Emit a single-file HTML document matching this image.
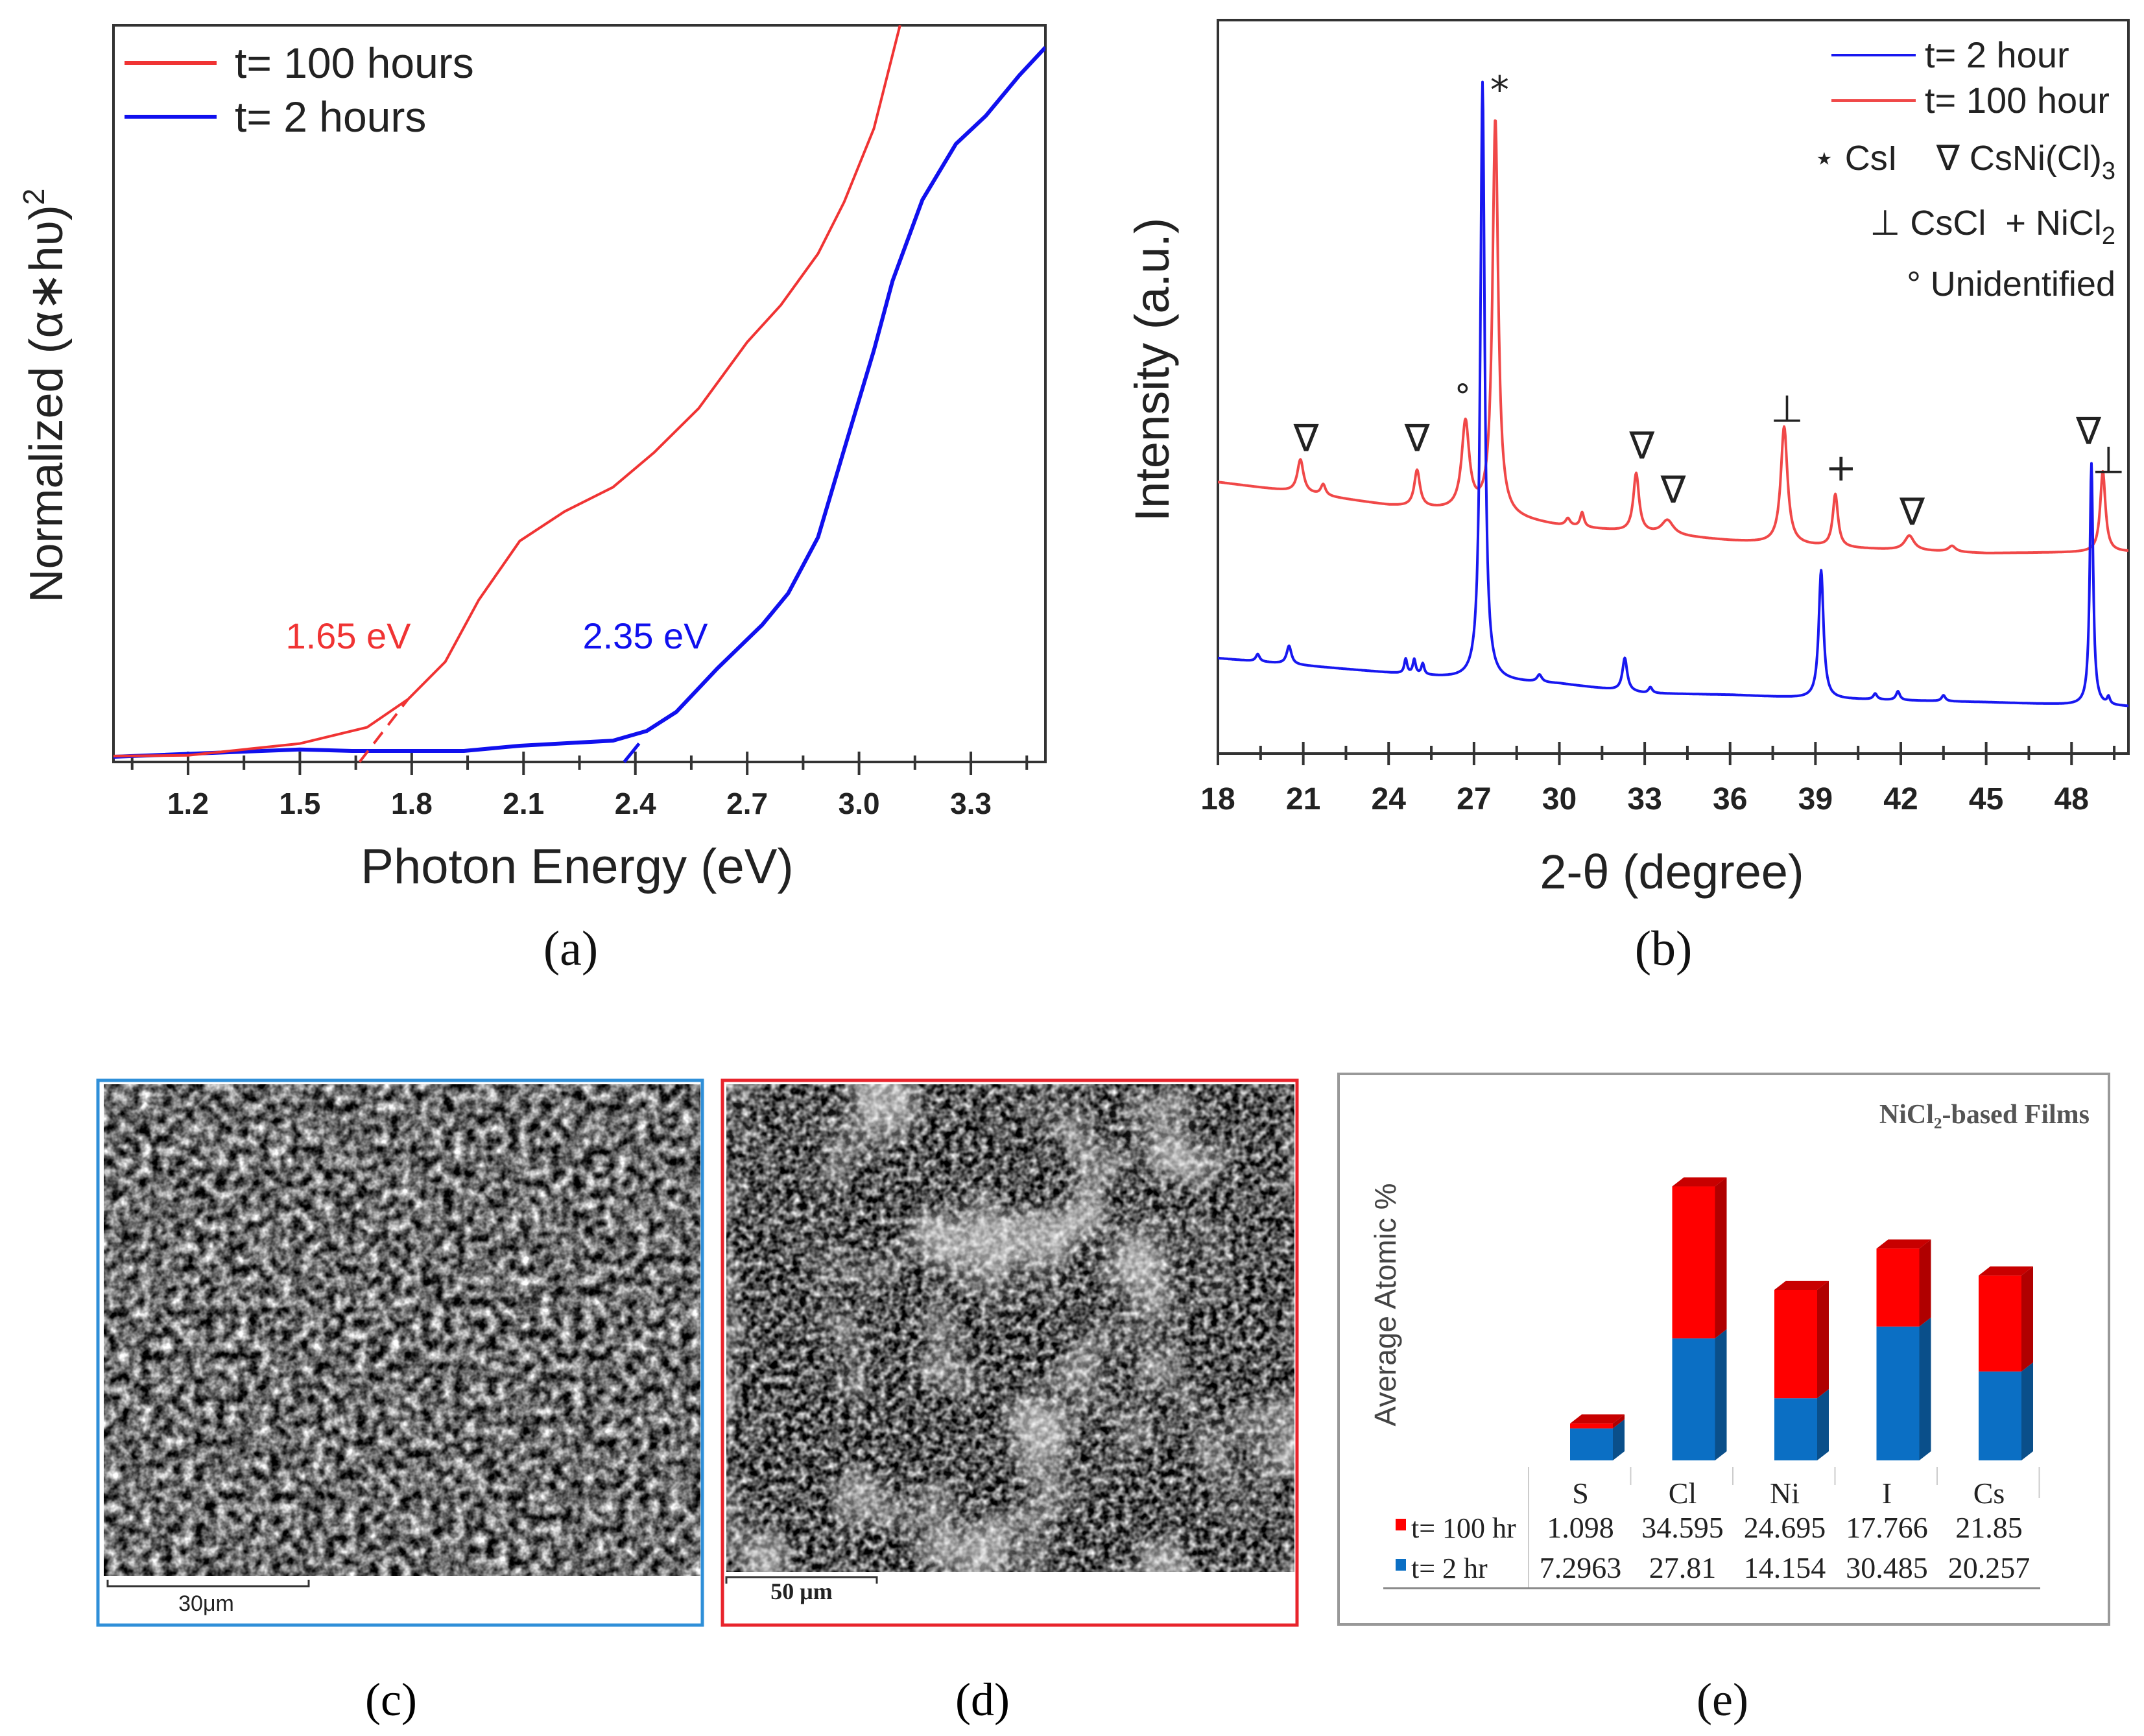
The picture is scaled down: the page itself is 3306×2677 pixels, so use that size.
<!DOCTYPE html>
<html><head><meta charset="utf-8"><style>
html,body{margin:0;padding:0;background:#fff;}
svg{display:block;}
</style></head><body>
<svg id="fig" width="3306" height="2677" viewBox="0 0 3306 2677" xmlns="http://www.w3.org/2000/svg">
<defs>
<filter id="semC" x="0" y="0" width="1" height="1" color-interpolation-filters="sRGB">
<feTurbulence type="fractalNoise" baseFrequency="0.06" numOctaves="3" seed="4" result="n"/>
<feColorMatrix in="n" type="matrix" values="1.7 0 0 0 -0.42  1.7 0 0 0 -0.42  1.7 0 0 0 -0.42  0 0 0 0 1"/>
</filter>
<filter id="semD1" x="0" y="0" width="1" height="1" color-interpolation-filters="sRGB">
<feTurbulence type="fractalNoise" baseFrequency="0.09" numOctaves="2" seed="2" result="n"/>
<feColorMatrix in="n" type="matrix" values="1.6 0 0 0 -0.45  1.6 0 0 0 -0.45  1.6 0 0 0 -0.45  0 0 0 0 1"/>
</filter>
<filter id="semD2" x="0" y="0" width="1" height="1" color-interpolation-filters="sRGB">
<feTurbulence type="fractalNoise" baseFrequency="0.007" numOctaves="2" seed="9" result="n"/>
<feColorMatrix in="n" type="matrix" values="0 0 0 0 1  0 0 0 0 1  0 0 0 0 1  4 0 0 0 -1.9"/>
</filter>
</defs>
<g id="panelA"></g>
<g id="panelB"></g>
<g id="panelC">
<rect x="151" y="1666" width="932" height="840" fill="#fff" stroke="#2f8fd8" stroke-width="5"/>
<rect x="160" y="1672" width="920" height="758" fill="#777" filter="url(#semC)"/>
<path d="M166,2436 V2446 H476 V2436" fill="none" stroke="#333" stroke-width="3"/>
<text x="318" y="2484" font-family="Liberation Sans, sans-serif" font-size="34" text-anchor="middle" fill="#222">30μm</text>
<text x="603" y="2645" font-family="Liberation Serif, serif" font-size="72" text-anchor="middle">(c)</text>
</g>
<g id="panelD">
<rect x="1114" y="1666" width="886" height="840" fill="#fff" stroke="#e8242c" stroke-width="5"/>
<rect x="1120" y="1672" width="876" height="752" fill="#777" filter="url(#semD1)"/>
<rect x="1120" y="1672" width="876" height="752" fill="#fff" filter="url(#semD2)" opacity="0.55"/>
<path d="M1120,2442 V2432 H1352 V2442" fill="none" stroke="#333" stroke-width="3"/>
<text x="1236" y="2466" font-family="Liberation Serif, serif" font-size="36" font-weight="bold" text-anchor="middle" fill="#222">50 μm</text>
<text x="1515" y="2645" font-family="Liberation Serif, serif" font-size="72" text-anchor="middle">(d)</text>
</g>
<g id="panelE"></g>
</svg>
<script>
const NS='http://www.w3.org/2000/svg';
function mk(parent,tag,attrs,text){const e=document.createElementNS(NS,tag);for(const k in attrs)e.setAttribute(k,attrs[k]);if(text!==undefined)e.textContent=text;parent.appendChild(e);return e;}

/* ---------- Panel (a) data ---------- */
const aRedX=[1.0,1.2,1.5,1.68,1.79,1.89,1.98,2.09,2.21,2.34,2.45,2.57,2.70,2.79,2.89,2.96,3.04,3.11];
const aRedY=[0.008,0.009,0.025,0.047,0.085,0.136,0.22,0.30,0.34,0.373,0.42,0.48,0.57,0.62,0.69,0.76,0.86,1.0];
const aBlueX=[1.0,1.5,1.64,1.94,2.09,2.34,2.43,2.51,2.62,2.74,2.81,2.89,2.96,3.04,3.09,3.17,3.26,3.34,3.43,3.5];
const aBlueY=[0.007,0.017,0.015,0.015,0.022,0.029,0.042,0.068,0.127,0.186,0.229,0.305,0.424,0.559,0.653,0.763,0.839,0.877,0.932,0.97];
const aTicks=[1.2,1.5,1.8,2.1,2.4,2.7,3.0,3.3];
const aTickLabels=['1.2','1.5','1.8','2.1','2.4','2.7','3.0','3.3'];
const aMinor=[1.05,1.35,1.65,1.95,2.25,2.55,2.85,3.15,3.45];
const aGapRed=[1.66,1.79];
const aGapBlue=[2.37,2.41];

/* ---------- Panel (b) data ---------- */
const bRedBaseX=[18,21,24,27,30,33,36,40,45,50];
const bRedBaseY=[0.37,0.355,0.338,0.328,0.31,0.30,0.29,0.28,0.273,0.275];
const bRedPeakC=[20.9,21.7,25.0,26.7,27.75,30.3,30.8,32.7,33.8,37.9,39.7,42.3,43.8,49.1];
const bRedPeakH=[0.045,0.015,0.05,0.12,0.54,0.01,0.02,0.08,0.02,0.16,0.072,0.02,0.008,0.11];
const bRedPeakW=[0.13,0.1,0.12,0.16,0.12,0.1,0.08,0.12,0.25,0.14,0.11,0.2,0.15,0.11];
const bBlueBaseX=[18,21,24,27,30,33,36,39,45,50];
const bBlueBaseY=[0.13,0.12,0.11,0.10,0.095,0.082,0.08,0.075,0.07,0.064];
const bBluePeakC=[19.4,20.5,24.6,24.9,25.2,27.3,29.3,32.3,33.2,39.2,41.1,41.9,43.5,48.7,49.3];
const bBluePeakH=[0.01,0.025,0.02,0.02,0.015,0.816,0.01,0.045,0.008,0.175,0.008,0.012,0.008,0.33,0.01];
const bBluePeakW=[0.08,0.1,0.06,0.06,0.06,0.09,0.1,0.1,0.08,0.1,0.08,0.08,0.08,0.07,0.06];
const bTicks=[18,21,24,27,30,33,36,39,42,45,48];
const bTickLabels=['18','21','24','27','30','33','36','39','42','45','48'];
const bMinor=[19.5,22.5,25.5,28.5,31.5,34.5,37.5,40.5,43.5,46.5,49.5];
const bMarkSym=['∇','∇','∇','∇','∇','∇','⊥','⊥','+','°','*'];
const bMarkX=[21.1,25.0,32.9,34.0,42.4,48.6,38.0,49.3,39.9,26.6,27.9];
const bMarkY=[0.43,0.43,0.42,0.36,0.33,0.44,0.47,0.40,0.39,0.49,0.905];

/* ---------- Panel (e) data ---------- */
const eCats=['S','Cl','Ni','I','Cs'];
const e100=[1.098,34.595,24.695,17.766,21.85];
const e2=[7.2963,27.81,14.154,30.485,20.257];
const e100Labels=['1.098','34.595','24.695','17.766','21.85'];
const e2Labels=['7.2963','27.81','14.154','30.485','20.257'];

/* ===== Panel (a) ===== */
(function(){
const g=document.getElementById('panelA');
const L=175,R=1612,T=39,B=1175;
const xa=v=>L+(v-1.0)/2.5*(R-L);
const ya=f=>B-f*(B-T);
const clip=mk(g,'clipPath',{id:'clipA'});mk(clip,'rect',{x:L,y:T,width:R-L,height:B-T});
const box=mk(g,'rect',{x:L,y:T,width:R-L,height:B-T,fill:'none',stroke:'#333',"stroke-width":4});

aTicks.forEach((t,i)=>{
 const tk=mk(g,'line',{x1:xa(t),x2:xa(t),y1:B-16,y2:B+20,stroke:'#333',"stroke-width":4});
 
 const lb=mk(g,'text',{x:xa(t),y:B+80,"font-family":'Liberation Sans, sans-serif',"font-size":46,"font-weight":'bold',"text-anchor":'middle',fill:'#222'},aTickLabels[i]);
 
});
aMinor.forEach(t=>{const tk=mk(g,'line',{x1:xa(t),x2:xa(t),y1:B-10,y2:B+12,stroke:'#333',"stroke-width":4});
 });
function poly(xs,ys,col,w,name){
 let d='';xs.forEach((x,i)=>{d+=(i?'L':'M')+xa(x).toFixed(1)+','+ya(ys[i]).toFixed(1);});
 const p=mk(g,'path',{d:d,fill:'none',stroke:col,"stroke-width":w,"stroke-linejoin":'round',"clip-path":'url(#clipA)'});
 
}
poly(aBlueX,aBlueY,'#1010ee',6,'series-2-hours');
poly(aRedX,aRedY,'#f03333',4,'series-100-hours');
const interp=(xs,ys,x)=>{for(let i=1;i<xs.length;i++){if(x<=xs[i]){const t=(x-xs[i-1])/(xs[i]-xs[i-1]);return ys[i-1]+t*(ys[i]-ys[i-1]);}}return ys[ys.length-1];};
const tr=mk(g,'line',{x1:xa(aGapRed[0]),y1:ya(0),x2:xa(aGapRed[1]),y2:ya(interp(aRedX,aRedY,aGapRed[1])),stroke:'#f03333',"stroke-width":4,"stroke-dasharray":'22,14'});

const tb=mk(g,'line',{x1:xa(aGapBlue[0]),y1:ya(0),x2:xa(aGapBlue[1]),y2:ya(0.025),stroke:'#1010ee',"stroke-width":5});

const t1=mk(g,'text',{x:537,y:1000,"font-family":'Liberation Sans, sans-serif',"font-size":56,"text-anchor":'middle',fill:'#f03333'},'1.65 eV');

const t2=mk(g,'text',{x:995,y:1000,"font-family":'Liberation Sans, sans-serif',"font-size":56,"text-anchor":'middle',fill:'#1010ee'},'2.35 eV');

const l1=mk(g,'line',{x1:192,x2:334,y1:97,y2:97,stroke:'#f03333',"stroke-width":6});

const lt1=mk(g,'text',{x:362,y:120,"font-family":'Liberation Sans, sans-serif',"font-size":66,fill:'#222'},'t= 100 hours');

const l2=mk(g,'line',{x1:192,x2:334,y1:180,y2:180,stroke:'#1010ee',"stroke-width":6});

const lt2=mk(g,'text',{x:362,y:203,"font-family":'Liberation Sans, sans-serif',"font-size":66,fill:'#222'},'t= 2 hours');

const xt=mk(g,'text',{x:890,y:1362,"font-family":'Liberation Sans, sans-serif',"font-size":76,"text-anchor":'middle',fill:'#222'},'Photon Energy (eV)');

const yt=mk(g,'text',{x:0,y:0,transform:'translate(96,610) rotate(-90)',"font-family":'Liberation Sans, DejaVu Sans, sans-serif',"font-size":72,"text-anchor":'middle',fill:'#222'});

yt.appendChild(document.createTextNode('Normalized (α∗hυ)'));
mk(yt,'tspan',{dy:-28,"font-size":46},'2');
const pa=mk(g,'text',{x:880,y:1488,"font-family":'Liberation Serif, serif',"font-size":76,"text-anchor":'middle',fill:'#111'},'(a)');

})();

/* ===== Panel (b) ===== */
(function(){
const g=document.getElementById('panelB');
const L=1878,R=3282,T=31,B=1162;
const xb=v=>L+(v-18)/32*(R-L);
const yb=f=>B-f*(B-T);
const clip=mk(g,'clipPath',{id:'clipB'});mk(clip,'rect',{x:L,y:T,width:R-L,height:B-T});
const box=mk(g,'rect',{x:L,y:T,width:R-L,height:B-T,fill:'none',stroke:'#333',"stroke-width":4});

bTicks.forEach((t,i)=>{
 const tk=mk(g,'line',{x1:xb(t),x2:xb(t),y1:B-18,y2:B+18,stroke:'#333',"stroke-width":4});
 
 const lb=mk(g,'text',{x:xb(t),y:B+86,"font-family":'Liberation Sans, sans-serif',"font-size":48,"font-weight":'bold',"text-anchor":'middle',fill:'#222'},bTickLabels[i]);
 
});
bMinor.forEach(t=>{const tk=mk(g,'line',{x1:xb(t),x2:xb(t),y1:B-12,y2:B+10,stroke:'#333',"stroke-width":4});
 });
const interp=(xs,ys,x)=>{for(let i=1;i<xs.length;i++){if(x<=xs[i]){const t=(x-xs[i-1])/(xs[i]-xs[i-1]);return ys[i-1]+t*(ys[i]-ys[i-1]);}}return ys[ys.length-1];};
function pattern(bx,by,pc,ph,pw,col,w,name){
 let d='';
 for(let x=18;x<=50.0001;x+=0.02){
  let y=interp(bx,by,x);
  for(let k=0;k<pc.length;k++){const u=(x-pc[k])/pw[k];y+=ph[k]/(1+u*u);}
  d+=(d?'L':'M')+xb(x).toFixed(1)+','+yb(y).toFixed(1);
 }
 const p=mk(g,'path',{d:d,fill:'none',stroke:col,"stroke-width":w,"stroke-linejoin":'round',"clip-path":'url(#clipB)'});
 
}
pattern(bRedBaseX,bRedBaseY,bRedPeakC,bRedPeakH,bRedPeakW,'#f04848',4,'xrd-100-hour');
pattern(bBlueBaseX,bBlueBaseY,bBluePeakC,bBluePeakH,bBluePeakW,'#1818f0',4,'xrd-2-hour');
bMarkSym.forEach((s,i)=>{
 const fs=(s==='°')?50:58;
 const t=mk(g,'text',{x:xb(bMarkX[i]),y:yb(bMarkY[i])+20,"font-family":'DejaVu Sans, sans-serif',"font-size":fs,"text-anchor":'middle',fill:'#222'},s);
 
});
const l1=mk(g,'line',{x1:2824,x2:2954,y1:85,y2:85,stroke:'#1818f0',"stroke-width":4});

const l2=mk(g,'line',{x1:2824,x2:2954,y1:155,y2:155,stroke:'#f04848',"stroke-width":4});

const fam='Liberation Sans, DejaVu Sans, sans-serif';
const lt1=mk(g,'text',{x:2968,y:104,"font-family":fam,"font-size":56,fill:'#222'},'t= 2 hour');

const lt2=mk(g,'text',{x:2968,y:174,"font-family":fam,"font-size":56,fill:'#222'},'t= 100 hour');

const k1=mk(g,'text',{x:3262,y:262,"font-family":fam,"font-size":54,"text-anchor":'end',fill:'#222'});

k1.appendChild(document.createTextNode('⋆ CsI\u00a0\u00a0\u00a0\u00a0∇ CsNi(Cl)'));mk(k1,'tspan',{dy:14,"font-size":38},'3');
const k2=mk(g,'text',{x:3262,y:362,"font-family":fam,"font-size":54,"text-anchor":'end',fill:'#222'});

k2.appendChild(document.createTextNode('⊥ CsCl\u00a0\u00a0+ NiCl'));mk(k2,'tspan',{dy:14,"font-size":38},'2');
const k3=mk(g,'text',{x:3262,y:456,"font-family":fam,"font-size":54,"text-anchor":'end',fill:'#222'},'° Unidentified');

const xt=mk(g,'text',{x:2578,y:1370,"font-family":'Liberation Sans, DejaVu Sans, sans-serif',"font-size":74,"text-anchor":'middle',fill:'#222'},'2-θ (degree)');

const yt=mk(g,'text',{x:0,y:0,transform:'translate(1802,570) rotate(-90)',"font-family":'Liberation Sans, sans-serif',"font-size":74,"text-anchor":'middle',fill:'#222'},'Intensity (a.u.)');

const pb=mk(g,'text',{x:2565,y:1488,"font-family":'Liberation Serif, serif',"font-size":76,"text-anchor":'middle',fill:'#111'},'(b)');

})();

/* ===== Panel (e) ===== */
(function(){
const g=document.getElementById('panelE');
const fr=mk(g,'rect',{x:2064,y:1656,width:1188,height:849,fill:'#fff',stroke:'#999',"stroke-width":4});

const tt=mk(g,'text',{x:3222,y:1732,"font-family":'Liberation Serif, serif',"font-size":42,"font-weight":'bold',"text-anchor":'end',fill:'#555'},'NiCl₂-based Films');

const yt=mk(g,'text',{x:0,y:0,transform:'translate(2152,2012) rotate(-90)',"font-family":'Liberation Sans, sans-serif',"font-size":46,"text-anchor":'middle',fill:'#444'},'Average Atomic %');

const base=2252, scale=6.77, bw=66, dx=18, dy=14;
const cx=i=>2454+i*157.5;
const yv=v=>base-v*scale;
eCats.forEach((c,i)=>{
 const x0=cx(i)-bw/2, x1=x0+bw;
 const yb=yv(e2[i]), yt2=yv(e2[i]+e100[i]);
 const s1=mk(g,'polygon',{points:`${x1},${base} ${x1+dx},${base-dy} ${x1+dx},${yb-dy} ${x1},${yb}`,fill:'#0a4f8a'});
 
 const s2=mk(g,'polygon',{points:`${x1},${yb} ${x1+dx},${yb-dy} ${x1+dx},${yt2-dy} ${x1},${yt2}`,fill:'#b00000'});
 
 const top=mk(g,'polygon',{points:`${x0},${yt2} ${x0+dx},${yt2-dy} ${x1+dx},${yt2-dy} ${x1},${yt2}`,fill:'#c80000'});
 
 const f1=mk(g,'rect',{x:x0,y:yb,width:bw,height:base-yb,fill:'#0b6fc4'});
 
 const f2=mk(g,'rect',{x:x0,y:yt2,width:bw,height:yb-yt2,fill:'#ff0000'});
 
 const ser='Liberation Serif, serif';
 const h=mk(g,'text',{x:cx(i)-17,y:2318,"font-family":ser,"font-size":46,"text-anchor":'middle',fill:'#222'},c);
 
 const r1=mk(g,'text',{x:cx(i)-17,y:2371,"font-family":ser,"font-size":46,"text-anchor":'middle',fill:'#222'},e100Labels[i]);
 
 const r2=mk(g,'text',{x:cx(i)-17,y:2433,"font-family":ser,"font-size":46,"text-anchor":'middle',fill:'#222'},e2Labels[i]);
 
});
for(let k=0;k<=5;k++){const x=2357+k*157.5;const l=mk(g,'line',{x1:x,x2:x,y1:2262,y2:(k===0?2449:2290+((k===5)?20:0)),stroke:'#ccc',"stroke-width":2});
 }
const bl=mk(g,'line',{x1:2133,x2:3146,y1:2449,y2:2449,stroke:'#888',"stroke-width":3});

const q1=mk(g,'rect',{x:2152,y:2342,width:16,height:18,fill:'#ff0000'});

const q2=mk(g,'rect',{x:2152,y:2404,width:16,height:18,fill:'#0b6fc4'});

const lt1=mk(g,'text',{x:2176,y:2371,"font-family":'Liberation Serif, serif',"font-size":44,fill:'#222'},'t= 100 hr');

const lt2=mk(g,'text',{x:2176,y:2433,"font-family":'Liberation Serif, serif',"font-size":44,fill:'#222'},'t= 2 hr');

const pe=mk(g,'text',{x:2656,y:2645,"font-family":'Liberation Serif, serif',"font-size":72,"text-anchor":'middle',fill:'#111'},'(e)');

})();
</script>
</body></html>
